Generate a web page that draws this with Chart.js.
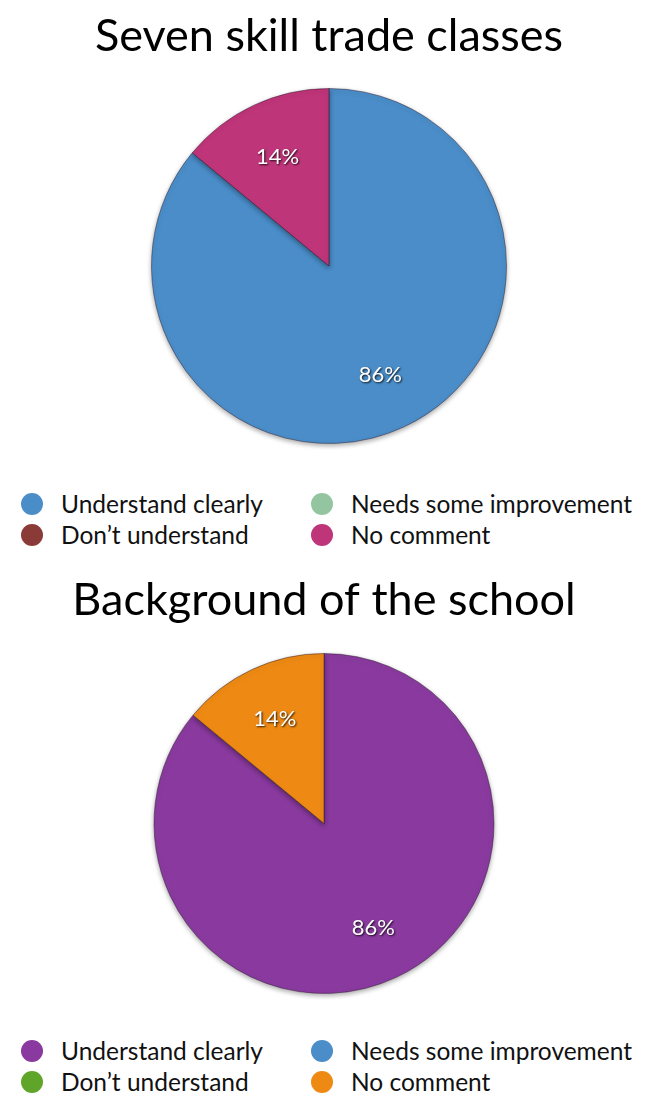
<!DOCTYPE html>
<html>
<head>
<meta charset="utf-8">
<script src="https://cdn.jsdelivr.net/npm/chart.js@4"></script>
<style>
    body { margin: 0; background: #fff; font-family: Lato, sans-serif; }
    #page { position: relative; width: 646px; height: 1093px; }
    .chart-box { position: absolute; left: 0; width: 646px; }
    .legend { position: absolute; left: 0; width: 646px; display: grid; grid-template-columns: 290px 356px; row-gap: 4px; font-size: 24.5px; color: #111; }
    .legend div { display: flex; align-items: center; height: 27px; white-space: nowrap; }
    .legend span.dot { display: inline-block; flex: none; width: 22px; height: 22px; border-radius: 50%; margin: 0 18px 0 21px; }
</style>
</head>
<body>
<div id="page">
    <div class="chart-box" style="top:0;height:450px"><canvas id="chart1"></canvas></div>
    <div class="legend" id="legend1" style="top:490px"></div>
    <div class="chart-box" style="top:560px;height:440px"><canvas id="chart2"></canvas></div>
    <div class="legend" id="legend2" style="top:1037px"></div>
</div>
<script>
// Categories (order = legend reading order, row by row)
const categories = ['Understand clearly', 'Needs some improvement', "Don\u2019t understand", 'No comment'];

// Percent of answers per category
const skillTradeValues = [86, 0, 0, 14];
const schoolBackgroundValues = [86, 0, 0, 14];

const titles = ['Seven skill trade classes', 'Background of the school'];

const skillTradeColors = ['#4a8dc8', '#93c5a0', '#8a3b37', '#bf3579'];
const schoolBackgroundColors = ['#8a3a9f', '#4a8dc8', '#5ea52a', '#ee8a14'];

// Draws the percent labels inside each slice
const sliceLabels = {
    id: 'sliceLabels',
    afterDatasetsDraw(chart) {
        const ctx = chart.ctx;
        const meta = chart.getDatasetMeta(0);
        const data = chart.data.datasets[0].data;
        const total = data.reduce((a, b) => a + b, 0);
        ctx.save();
        ctx.font = '22px Lato, sans-serif';
        ctx.textAlign = 'center';
        ctx.textBaseline = 'middle';
        meta.data.forEach((arc, i) => {
            if (!data[i]) return;
            const mid = (arc.startAngle + arc.endAngle) / 2;
            const r = arc.outerRadius * 0.68;
            const x = arc.x + Math.cos(mid) * r;
            const y = arc.y + Math.sin(mid) * r;
            ctx.shadowColor = 'rgba(0,0,0,0.85)';
            ctx.shadowBlur = 2;
            ctx.shadowOffsetX = 1;
            ctx.shadowOffsetY = 1;
            ctx.fillStyle = '#fff';
            ctx.fillText(Math.round(data[i] / total * 100) + '%', x, y);
        });
        ctx.restore();
    }
};

// Soft shadow under the pie
const pieShadow = {
    id: 'pieShadow',
    beforeDatasetsDraw(chart) {
        const ctx = chart.ctx;
        ctx.save();
        ctx.shadowColor = 'rgba(0,0,0,0.35)';
        ctx.shadowBlur = 5;
        ctx.shadowOffsetY = 2;
    },
    afterDatasetsDraw(chart) {
        chart.ctx.restore();
    }
};

function makePie(canvasId, title, values, colors, titlePad, padLeft) {
    const ctx = document.getElementById(canvasId).getContext('2d');
    return new Chart(ctx, {
        type: 'pie',
        data: {
            labels: categories,
            datasets: [{
                data: values,
                backgroundColor: colors,
                borderColor: 'rgba(40,20,40,0.45)',
                borderWidth: 1
            }]
        },
        options: {
            responsive: true,
            maintainAspectRatio: false,
            animation: false,
            layout: { padding: { left: padLeft, bottom: 6 } },
            plugins: {
                legend: { display: false },
                tooltip: { enabled: false },
                title: {
                    display: true,
                    text: title,
                    color: '#000',
                    font: { family: 'Lato, sans-serif', size: 45, weight: 'normal', lineHeight: 1.2 },
                    padding: titlePad
                }
            }
        },
        plugins: [pieShadow, sliceLabels]
    });
}

function buildLegend(id, colors) {
    const box = document.getElementById(id);
    categories.forEach((label, i) => {
        const item = document.createElement('div');
        const dot = document.createElement('span');
        dot.className = 'dot';
        dot.style.background = colors[i];
        item.appendChild(dot);
        item.appendChild(document.createTextNode(label));
        box.appendChild(item);
    });
}

makePie('chart1', titles[0], skillTradeValues, skillTradeColors, { top: 9, bottom: 25 }, 12);
makePie('chart2', titles[1], schoolBackgroundValues, schoolBackgroundColors, { top: 13, bottom: 26 }, 2);
buildLegend('legend1', skillTradeColors);
buildLegend('legend2', schoolBackgroundColors);
</script>
</body>
</html>
